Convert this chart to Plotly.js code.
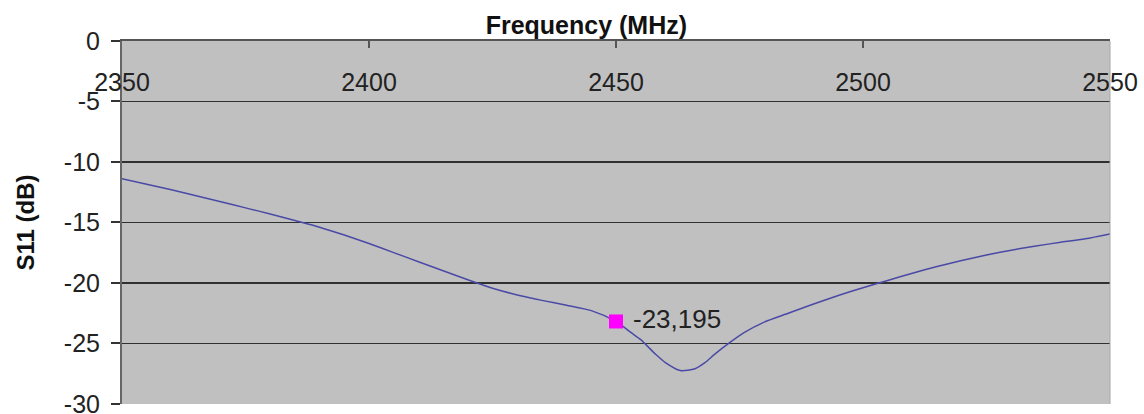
<!DOCTYPE html>
<html>
<head>
<meta charset="utf-8">
<script src="https://cdn.plot.ly/plotly-3.0.1.min.js"></script>
<style>html,body{margin:0;padding:0;background:#fff;}#chart{width:1144px;height:414px;}</style>
</head>
<body>
<div id="chart"></div>
<script>
// Frequency (MHz)
const freq = [2350,2355,2360,2365,2370,2375,2380,2385,2390,2395,2400,2405,2410,2415,2420,2425,2430,2435,2440,2445,2450,2453,2455,2458,2460,2463,2466,2468,2470,2473,2476,2480,2485,2490,2495,2500,2505,2510,2515,2520,2525,2530,2535,2540,2545,2550];
// S11 (dB)
const s11 = [-11.4,-11.85,-12.3,-12.8,-13.3,-13.8,-14.3,-14.85,-15.4,-16.05,-16.75,-17.5,-18.25,-19.0,-19.75,-20.45,-21.0,-21.45,-21.85,-22.3,-23.195,-24.1,-24.7,-25.9,-26.6,-27.25,-27.1,-26.6,-25.9,-24.95,-24.1,-23.25,-22.5,-21.75,-21.05,-20.4,-19.8,-19.2,-18.65,-18.15,-17.7,-17.3,-16.95,-16.65,-16.35,-15.95];
// Marked point
const markX = [2450];
const markY = [-23.195];
const markLabel = ["-23,195"];
const xTicks = [2350,2400,2450,2500,2550];
const yTicks = [0,-5,-10,-15,-20,-25,-30];

const font = "Liberation Sans, Arial, sans-serif";

const traces = [
  {x: freq, y: s11, type: 'scatter', mode: 'lines', line: {color: '#4a4aa6', width: 1.5, shape: 'spline', smoothing: 0.7}, hoverinfo: 'skip', cliponaxis: false},
  {x: markX, y: markY, type: 'scatter', mode: 'markers+text', text: markLabel, texttemplate: ' %{text}', textposition: 'middle right',
   textfont: {family: font, size: 26, color: '#222'},
   marker: {symbol: 'square', size: 14, color: '#ff00ff'}, hoverinfo: 'skip', cliponaxis: false}
];

const layout = {
  width: 1144, height: 414,
  margin: {l: 122, r: 34, t: 41, b: 10},
  paper_bgcolor: '#ffffff',
  plot_bgcolor: '#c0c0c0',
  showlegend: false,
  font: {family: font, size: 25, color: '#222'},
  title: {text: '<b>Frequency (MHz)</b>', x: 0.47, xref: 'paper', xanchor: 'center', y: 0.94, yref: 'container', yanchor: 'middle', font: {family: font, size: 25, color: '#111'}},
  xaxis: {
    range: [2350, 2550], side: 'top', tickvals: xTicks, ticktext: xTicks.map(String),
    ticks: 'inside', ticklen: 7, tickcolor: '#555', tickwidth: 2,
    ticklabelposition: 'inside', ticklabeloverflow: 'allow', ticklabelstandoff: 27,
    showline: true, linecolor: '#555', linewidth: 2, mirror: false,
    showgrid: false, zeroline: false, tickfont: {family: font, size: 25, color: '#222'}
  },
  yaxis: {
    range: [-30.02, 0], tickvals: yTicks, ticktext: yTicks.map(String),
    ticks: 'outside', ticklen: 9, tickcolor: '#333', tickwidth: 2, ticklabelstandoff: 6,
    ticklabeloverflow: 'allow',
    showline: true, linecolor: '#666', linewidth: 2,
    showgrid: true, gridcolor: '#303030', gridwidth: 1.5, zeroline: false,
    tickfont: {family: font, size: 25, color: '#222'},
    title: {text: '<b>S11 (dB)</b>', standoff: 22, font: {family: font, size: 24, color: '#111'}}
  },
  shapes: [
    {type: 'line', xref: 'paper', yref: 'paper', x0: 1, x1: 1, y0: 0, y1: 1, line: {color: '#a8a8a8', width: 1}}
  ]
};

Plotly.newPlot('chart', traces, layout, {staticPlot: true, displayModeBar: false});
</script>
</body>
</html>
